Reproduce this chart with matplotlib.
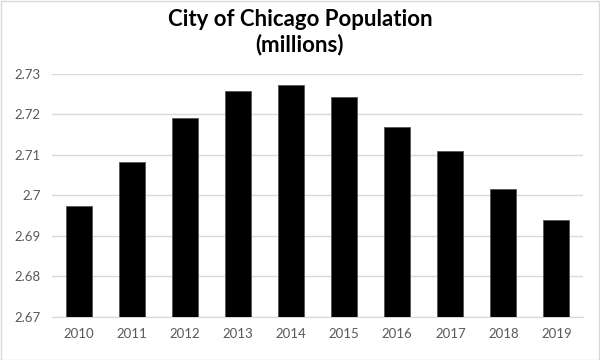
import matplotlib.pyplot as plt
from matplotlib.patches import Rectangle
from matplotlib.ticker import FuncFormatter

# population data (millions)
years = ['2010', '2011', '2012', '2013', '2014', '2015', '2016', '2017', '2018', '2019']
population = [2.6974, 2.7082, 2.7192, 2.7258, 2.7272, 2.7244, 2.7168, 2.7111, 2.7015, 2.6940]
yticks = [2.67, 2.68, 2.69, 2.70, 2.71, 2.72, 2.73]

plt.rcParams['font.family'] = ['Lato', 'DejaVu Sans']

fig = plt.figure(figsize=(6, 3.6), dpi=100)
ax = fig.add_axes([52/600, 43/360, 531/600, 243/360])

ax.bar(years, population, width=0.49, color='black', edgecolor='#555555', linewidth=0.6, zorder=3)

ax.set_ylim(2.67, 2.73)
ax.set_xlim(-0.5, len(years) - 0.5)
ax.set_yticks(yticks)
ax.yaxis.set_major_formatter(FuncFormatter(lambda v, p: f'{v:g}'))
ax.grid(axis='y', color='#d9d9d9', linewidth=1, zorder=0)
ax.tick_params(axis='both', length=0, colors='#595959', labelsize=9.5)
ax.tick_params(axis='x', pad=8)
ax.tick_params(axis='y', pad=8)
for s in ['top', 'right', 'left']:
    ax.spines[s].set_visible(False)
ax.spines['bottom'].set_color('#d9d9d9')

fig.text(0.5, 0.975, 'City of Chicago Population\n(millions)', ha='center', va='top',
         fontsize=16, fontweight='bold', linespacing=1.2)

# light chart border
fig.patches.append(Rectangle((0.001, 0.001), 0.997, 0.997, transform=fig.transFigure,
                             fill=False, edgecolor='#d9d9d9', linewidth=1))

fig.savefig('out.png', dpi=100)
